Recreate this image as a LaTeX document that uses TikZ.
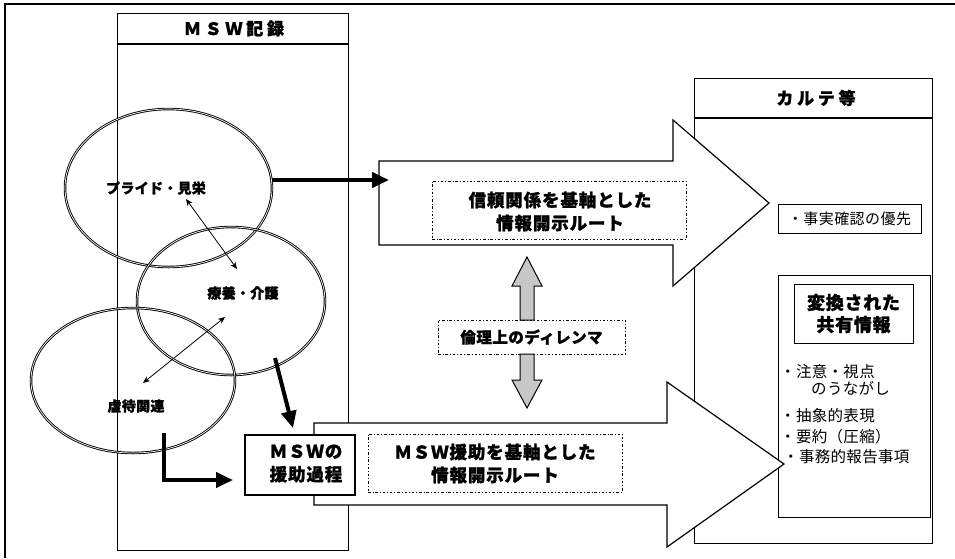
\documentclass[tikz,border=0pt]{standalone}
\usepackage{fontspec}
\setmainfont{Noto Sans CJK JP}[BoldFeatures={FakeBold=1.2}]
\usetikzlibrary{arrows.meta,shapes.geometric}
\newcommand\lsp[1]{\addfontfeature{LetterSpace=#1}}
\begin{document}
\begin{tikzpicture}[x=1pt,y=-1pt,
  frame/.style={draw,line width=1.3pt},
  box/.style={draw,line width=1.2pt,fill=white,inner sep=0pt},
  thinbox/.style={draw,line width=1pt,fill=white,inner sep=0pt},
  dotbox/.style={draw,line width=0.8pt,dash pattern=on 2.5pt off 2pt on 0.8pt off 2pt,inner sep=0pt},
  ell/.style={ellipse,draw,line width=0.9pt,double=white,double distance=0.7pt,inner sep=0pt},
  bigarrow/.style={draw,line width=1.2pt,fill=white,line join=miter},
  dblarrow/.style={draw,line width=1pt,fill=black!22},
  thickarrow/.style={line width=4pt,-{Triangle[length=17pt,width=15pt]}},
  thinarrow/.style={line width=0.8pt,{Stealth[length=7pt,width=6pt]}-{Stealth[length=7pt,width=6pt]}},
  hdr/.style={font=\bfseries\fontsize{17}{20}\selectfont\lsp{22}},
  lbl/.style={font=\bfseries\fontsize{14}{16}\selectfont\lsp{2}},
  route/.style={font=\bfseries\fontsize{17.5}{23}\selectfont\lsp{5},align=center},
  dil/.style={font=\bfseries\fontsize{15.5}{18}\selectfont\lsp{3}},
  plain/.style={font=\fontsize{15}{17}\selectfont\lsp{3}},
  bul/.style={font=\fontsize{15.5}{17}\selectfont\lsp{2},anchor=west,inner sep=0pt},
  conv/.style={font=\bfseries\fontsize{18}{22}\selectfont\lsp{4},align=center}
]
\useasboundingbox (0,0) rectangle (955,558);
% outer frame (top and left edges visible)
\draw[frame] (5,558) -- (5,4) -- (955,4);

% MSW record column
\node[box,minimum width=231pt,minimum height=537pt,anchor=north west] (msw) at (117,13) {};
\draw[line width=1.5pt] ([yshift=-31pt]msw.north west) -- ([yshift=-31pt]msw.north east);
\node[hdr] (mswh) at (234,28.5) {ＭＳＷ記録};

% Karte column
\node[box,minimum width=238pt,minimum height=465pt,anchor=north west] (karte) at (694,78) {};
\draw[line width=1.5pt] ([yshift=-40pt]karte.north west) -- ([yshift=-40pt]karte.north east);
\node[hdr] (karteh) at (816,98) {カルテ等};
\node[thinbox,minimum width=143pt,minimum height=29pt,plain] (fact) at (849.5,218.5) {・事実確認の優先};
\node[thinbox,minimum width=152pt,minimum height=242pt,anchor=north west] (inner) at (778,275) {};
\node[thinbox,minimum width=119pt,minimum height=59pt,conv] (conv) at (853.5,313.5) {変換された\\共有情報};
\node[bul] (b1) at (780,372) {・注意・視点};
\node[bul] (b2) at (811,388) {のうながし};
\node[bul] (b3) at (780,416) {・抽象的表現};
\node[bul] (b4) at (780,437) {・要約（圧縮）};
\node[bul] (b5) at (783,457) {・事務的報告事項};

% ellipses
\node[ell,minimum width=207pt,minimum height=158pt] (e1) at (168.5,188) {};
\node[ell,minimum width=188pt,minimum height=148pt] (e2) at (231,301) {};
\node[ell,minimum width=204pt,minimum height=145pt] (e3) at (133,380.5) {};
\node[lbl] (l1) at (156,188) {プライド・見栄};
\node[lbl] (l2) at (243,293) {療養・介護};
\node[lbl] (l3) at (136,406) {虐待関連};

% thin double arrows between topics
\coordinate (a1s) at (186,199);
\coordinate (a1e) at (237,269);
\coordinate (a2s) at (225,317);
\coordinate (a2e) at (143,383);
\draw[thinarrow] (a1s) -- (a1e);
\draw[thinarrow] (a2s) -- (a2e);

% big route arrows
\draw[bigarrow] (379,161) -- (673,161) -- (673,120) -- (769,203) -- (673,286) -- (673,245) -- (379,245) -- cycle;
\draw[bigarrow] (314,423) -- (667,423) -- (667,382) -- (784,464) -- (667,547) -- (667,505) -- (314,505) -- cycle;

\node[dotbox,minimum width=254pt,minimum height=58pt] (r1box) at (559,210) {};
\node[route] (r1) at (560,211.5) {信頼関係を基軸とした\\情報開示ルート};
\node[dotbox,minimum width=254pt,minimum height=58pt] (r2box) at (495,463) {};
\node[route] (r2) at (495,463.5) {ＭＳＷ援助を基軸とした\\情報開示ルート};

% MSW process box
\node[box,minimum width=110pt,minimum height=60pt] (proc) at (300,465) {};
\node[route] (proct) at (306,463.5) {ＭＳＷの\\援助過程};

% ethical dilemma
\node[dotbox,fill=white,minimum width=187pt,minimum height=34pt,dil] (dil) at (531.5,337) {倫理上のディレンマ};
\draw[dblarrow] (527,257) -- (542,286) -- (534,286) -- (534,320) -- (520,320) -- (520,286) -- (512,286) -- cycle;
\draw[dblarrow] (527,408) -- (542,380) -- (534,380) -- (534,354) -- (520,354) -- (520,380) -- (512,380) -- cycle;

% thick connectors
\coordinate (t1s) at (272,180);
\coordinate (t1e) at (389,180);
\draw[thickarrow] (t1s) -- (t1e);
\coordinate (t2s) at (275,358);
\coordinate (t2e) at (293,428);
\draw[thickarrow] (t2s) -- (t2e);
\coordinate (t3s) at (164,433);
\coordinate (t3e) at (233,480);
\draw[thickarrow,line join=miter] (t3s) |- (t3e);
\end{tikzpicture}
\end{document}
